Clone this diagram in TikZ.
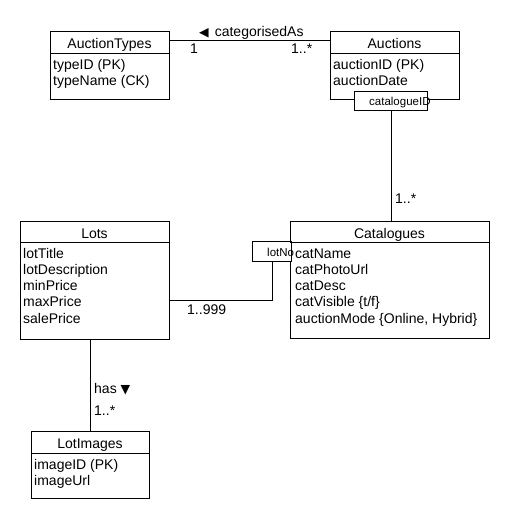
\documentclass[tikz,border=0pt]{standalone}
\usepackage{fontspec}
\setmainfont{Liberation Sans}
\newfontfamily\symfont{DejaVu Sans}
\begin{document}
\begin{tikzpicture}[x=1pt,y=-1pt,
  cls/.style={draw, rectangle, inner sep=0pt, line width=0.85pt, fill=white, anchor=north west},
  tag/.style={draw, rectangle, inner sep=0pt, line width=0.85pt, fill=white, anchor=north west},
  conn/.style={draw, line width=0.85pt},
  ttl/.style={inner sep=0pt, anchor=base, font=\fontsize{14}{16}\selectfont},
  attr/.style={inner sep=0pt, anchor=base west, font=\fontsize{14}{16}\selectfont},
  small/.style={inner sep=0pt, anchor=base west, font=\fontsize{11.5}{13}\selectfont},
  lbl/.style={inner sep=0pt, anchor=base west, font=\fontsize{14}{16}\selectfont}]
\useasboundingbox[fill=white] (0,0) rectangle (510,520);

\node[cls, minimum width=119pt, minimum height=68pt] (at) at (50,31) {};
\node[cls, minimum width=129pt, minimum height=68pt] (au) at (330,31) {};
\node[cls, minimum width=149pt, minimum height=118pt] (lots) at (20,221) {};
\node[cls, minimum width=199pt, minimum height=117pt] (cat) at (290,221) {};
\node[cls, minimum width=118pt, minimum height=67pt] (li) at (31,431) {};
\node[tag, minimum width=73pt, minimum height=19pt] (cid) at (354,91) {};
\node[tag, minimum width=39pt, minimum height=20pt] (lotno) at (252,241) {};
\coordinate (j) at (169,300);

\draw[conn] ([yshift=-9pt]at.north east) -- ([yshift=-9pt]au.north west);
\draw[conn] (cid.south) -- (cid.south |- cat.north);
\draw[conn] (lotno.south) |- (j);
\draw[conn] (li.north |- lots.south) -- (li.north);

\foreach \b/\s in {at/22, au/22, lots/21, cat/21, li/22}
  \draw[line width=0.85pt] ([yshift=-\s pt]\b.north west) -- ([yshift=-\s pt]\b.north east);

% AuctionTypes
\node[ttl] (atT) at (109.5,48) {AuctionTypes};
\node[attr] (at1) at (53,69) {typeID (PK)};
\node[attr] (at2) at (53,85.5) {typeName (CK)};
% Auctions
\node[ttl] (auT) at (394.5,48) {Auctions};
\node[attr] (au1) at (333,69) {auctionID (PK)};
\node[attr] (au2) at (333,85.5) {auctionDate};
\node[small] (cidT) at (369,105) {catalogueID};
% Lots
\node[ttl] (lotsT) at (94.5,238) {Lots};
\node[attr] (l1) at (23,258) {lotTitle};
\node[attr] (l2) at (23,274.3) {lotDescription};
\node[attr] (l3) at (23,290.6) {minPrice};
\node[attr] (l4) at (23,306.9) {maxPrice};
\node[attr] (l5) at (23,323.2) {salePrice};
% Catalogues
\node[ttl] (catT) at (389.5,238) {Catalogues};
\node[attr] (c1) at (295,258) {catName};
\node[attr] (c2) at (295,274.3) {catPhotoUrl};
\node[attr] (c3) at (295,290.6) {catDesc};
\node[attr] (c4) at (295,306.9) {catVisible \{t/f\}};
\node[attr] (c5) at (295,323.2) {auctionMode \{Online, Hybrid\}};
\node[small] (lnT) at (267,256) {lotNo};
% LotImages
\node[ttl] (liT) at (90,448) {LotImages};
\node[attr] (li1) at (34,469) {imageID (PK)};
\node[attr] (li2) at (34,485.5) {imageUrl};

% labels
\node[lbl] (rel1) at (199,36.5) {{\symfont\fontsize{12.5}{13}\selectfont ◀}\hspace{6pt}categorisedAs};
\node[lbl] (m1) at (190,53.5) {1};
\node[lbl] (m2) at (291,53.5) {1..*};
\node[lbl] (m3) at (395,203) {1..*};
\node[lbl] (m4) at (187,314) {1..999};
\node[lbl] (rel2) at (94,393) {has {\symfont\fontsize{12.5}{13}\selectfont ▼}};
\node[lbl] (m5) at (94,415) {1..*};
\end{tikzpicture}
\end{document}
